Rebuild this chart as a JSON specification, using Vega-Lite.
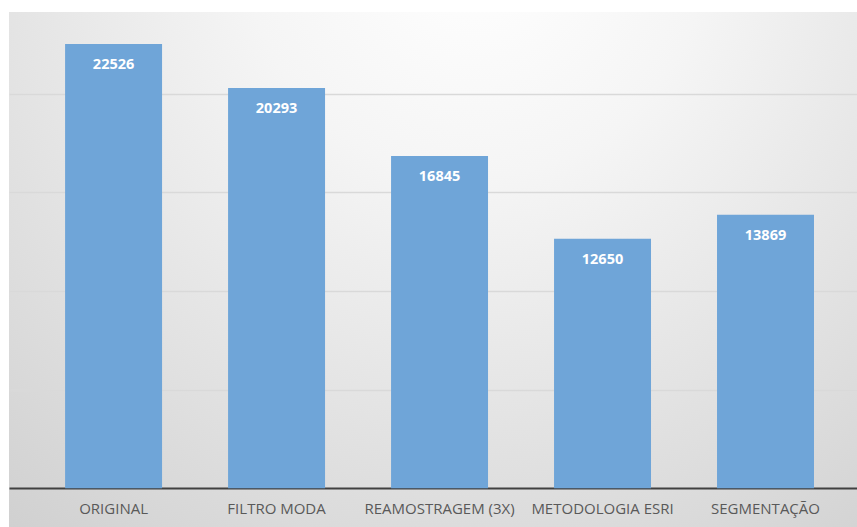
{
  "$schema": "https://vega.github.io/schema/vega-lite/v6.json",
  "width": 848,
  "height": 515,
  "autosize": {"type": "none"},
  "padding": {"left": 9, "top": 12, "right": 0, "bottom": 0},
  "background": "#ffffff",
  "config": {
    "view": {
      "stroke": null,
      "fill": {
        "gradient": "radial",
        "x1": 0.55, "y1": 0.12, "r1": 0,
        "x2": 0.55, "y2": 0.12, "r2": 0.9,
        "stops": [
          {"offset": 0, "color": "#ffffff"},
          {"offset": 0.3, "color": "#f5f5f5"},
          {"offset": 1, "color": "#cfcfcf"}
        ]
      }
    },
    "font": "Open Sans"
  },
  "data": {
    "values": [
      {"metodo": "ORIGINAL", "valor": 22526},
      {"metodo": "FILTRO MODA", "valor": 20293},
      {"metodo": "REAMOSTRAGEM (3X)", "valor": 16845},
      {"metodo": "METODOLOGIA ESRI", "valor": 12650},
      {"metodo": "SEGMENTAÇÃO", "valor": 13869}
    ]
  },
  "encoding": {
    "x": {
      "field": "metodo",
      "type": "nominal",
      "sort": null,
      "scale": {"paddingInner": 0.405, "paddingOuter": 0.304, "align": 0.566},
      "axis": {
        "title": null,
        "labelAngle": 0,
        "labelFont": "Open Sans",
        "labelFontSize": 15,
        "labelColor": "#595959",
        "labelPadding": 13,
        "ticks": false,
        "offset": -39,
        "domainColor": "#404040",
        "domainWidth": 2,
        "grid": false
      }
    },
    "y": {
      "field": "valor",
      "type": "quantitative",
      "scale": {"domain": [-1965, 24150], "nice": false, "zero": false},
      "axis": {
        "title": null,
        "labels": false,
        "ticks": false,
        "domain": false,
        "values": [5000, 10000, 15000, 20000],
        "gridColor": "#d9d9d9",
        "gridWidth": 1.3
      }
    }
  },
  "layer": [
    {"mark": {"type": "bar", "color": "#6fa5d8"}},
    {
      "mark": {
        "type": "text",
        "color": "#ffffff",
        "fontWeight": "bold",
        "fontSize": 14.5,
        "font": "Open Sans",
        "baseline": "middle",
        "dy": 21
      },
      "encoding": {"text": {"field": "valor", "type": "quantitative", "format": "d"}}
    }
  ]
}
